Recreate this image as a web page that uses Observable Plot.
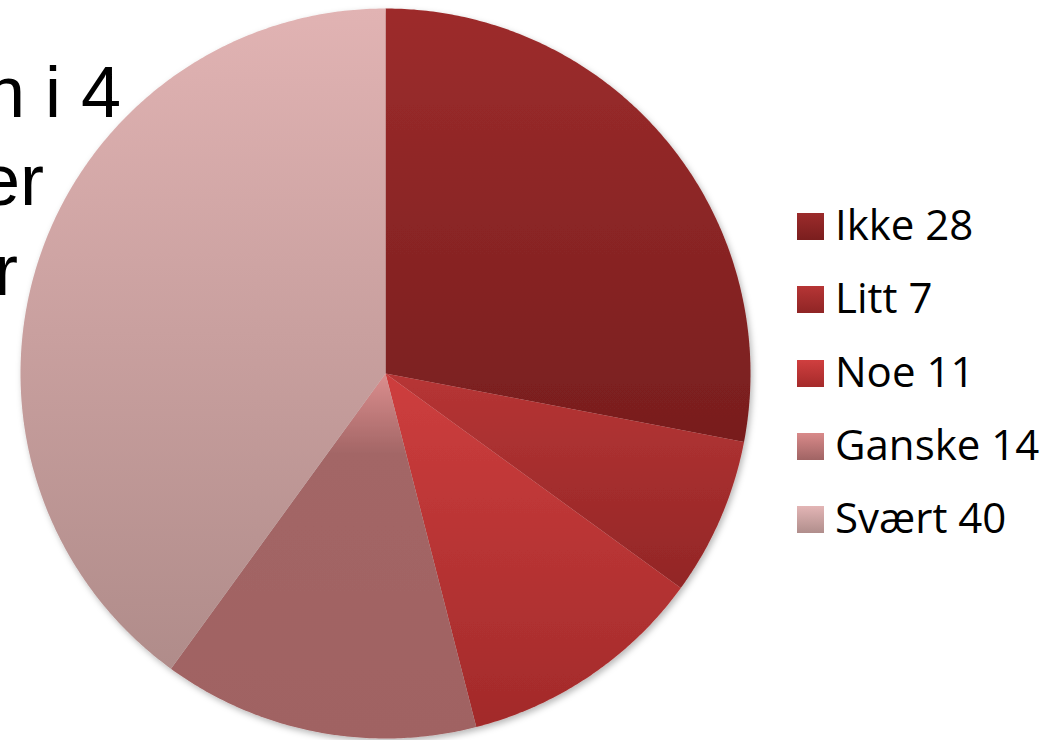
<!DOCTYPE html>
<html>
<head>
<meta charset="utf-8">
<script src="https://cdn.jsdelivr.net/npm/d3@7"></script>
<script src="https://cdn.jsdelivr.net/npm/@observablehq/plot@0.6"></script>
<style>
  html, body { margin: 0; padding: 0; background: #fff; }
  #wrap { position: relative; width: 1052px; height: 740px; overflow: hidden; }
  #legend { position: absolute; left: 797px; top: 0; font-family: "Open Sans", sans-serif; font-size: 42px; color: #000; }
  .item { position: absolute; left: 0; white-space: nowrap; height: 40px; }
  .sw { position: absolute; left: 0; width: 27px; height: 27px; }
  .lab { position: absolute; left: 38px; line-height: 1; }
  .bgtext { font-family: "Liberation Sans", Arial, sans-serif; font-size: 72px; fill: #000; }
</style>
</head>
<body>
<div id="wrap"></div>
<script>
const categories = ["Ikke", "Litt", "Noe", "Ganske", "Svært"];
const values = [28, 7, 11, 14, 40];
const legendLabels = ["Ikke 28", "Litt 7", "Noe 11", "Ganske 14", "Svært 40"];
const backgroundLines = ["n i 4", "er", "ir"];

// gradient stops per slice (top -> bottom)
const sliceGradients = [
  [[0, "#9d2c2c"], [1, "#781e1e"]],
  [[0, "#b73535"], [1, "#922626"]],
  [[0, "#ce3e3e"], [1, "#a22a2a"]],
  [[0, "#db8e8e"], [0.22, "#a36666"], [1, "#a06262"]],
  [[0, "#e1b3b3"], [1, "#b08c8a"]]
];
const legendGradients = [
  ["#9c2b2b", "#7a1e1e"],
  ["#b63535", "#8f2525"],
  ["#d03f3f", "#a42a2a"],
  ["#d98a8a", "#a06464"],
  ["#e3b5b5", "#b08e8c"]
];

const arcs = d3.pie().sort(null).value(d => d)(values);
const pts = [];
arcs.forEach((a, i) => {
  const cat = categories[i];
  pts.push({cat, x: 0, y: 0});
  const n = Math.max(2, Math.ceil((a.endAngle - a.startAngle) / (Math.PI / 360)));
  for (let k = 0; k <= n; k++) {
    const t = a.startAngle + (a.endAngle - a.startAngle) * k / n;
    pts.push({cat, x: Math.sin(t), y: Math.cos(t)});
  }
  pts.push({cat, x: 0, y: 0});
});

const svg = Plot.plot({
  width: 1052,
  height: 740,
  marginLeft: 20,
  marginRight: 302,
  marginTop: 8,
  marginBottom: 2,
  x: {domain: [-1, 1], axis: null},
  y: {domain: [-1, 1], axis: null},
  color: {domain: categories, range: categories.map((c, i) => `url(#grad${i})`)},
  marks: [
    Plot.line(pts, {x: "x", y: "y", z: "cat", fill: "cat", stroke: "none"})
  ]
});

const s = d3.select(svg);
const defs = s.insert("defs", ":first-child");
sliceGradients.forEach((stops, i) => {
  const g = defs.append("linearGradient").attr("id", `grad${i}`)
    .attr("x1", 0).attr("y1", 0).attr("x2", 0).attr("y2", 1);
  stops.forEach(([o, c]) => g.append("stop").attr("offset", o).attr("stop-color", c));
});
const f = defs.append("filter").attr("id", "shadow").attr("x", "-10%").attr("y", "-10%").attr("width", "120%").attr("height", "120%");
f.append("feDropShadow").attr("dx", 2).attr("dy", 3).attr("stdDeviation", 3).attr("flood-color", "#000").attr("flood-opacity", 0.28);

// background slide text partly hidden behind the pie
const bg = s.insert("g", "defs + *").attr("class", "bgtext");
bg.append("text").attr("x", 121).attr("y", 117).attr("text-anchor", "end").text(backgroundLines[0]);
bg.append("text").attr("x", 44).attr("y", 205).attr("text-anchor", "end").text(backgroundLines[1]);
bg.append("text").attr("x", -2).attr("y", 295).text(backgroundLines[2]);

s.selectAll("g[aria-label='line']").attr("filter", "url(#shadow)");

document.getElementById("wrap").appendChild(svg);

const legend = document.createElement("div");
legend.id = "legend";
legendLabels.forEach((lab, i) => {
  const it = document.createElement("div");
  it.className = "item";
  const base = 240 + i * 73.3;
  it.style.top = (base - 27) + "px";
  const sw = document.createElement("div");
  sw.className = "sw";
  sw.style.background = `linear-gradient(${legendGradients[i][0]}, ${legendGradients[i][1]})`;
  const t = document.createElement("div");
  t.className = "lab";
  t.textContent = lab;
  t.style.top = "-10px";
  it.appendChild(sw);
  it.appendChild(t);
  legend.appendChild(it);
});
document.getElementById("wrap").appendChild(legend);
</script>
</body>
</html>
